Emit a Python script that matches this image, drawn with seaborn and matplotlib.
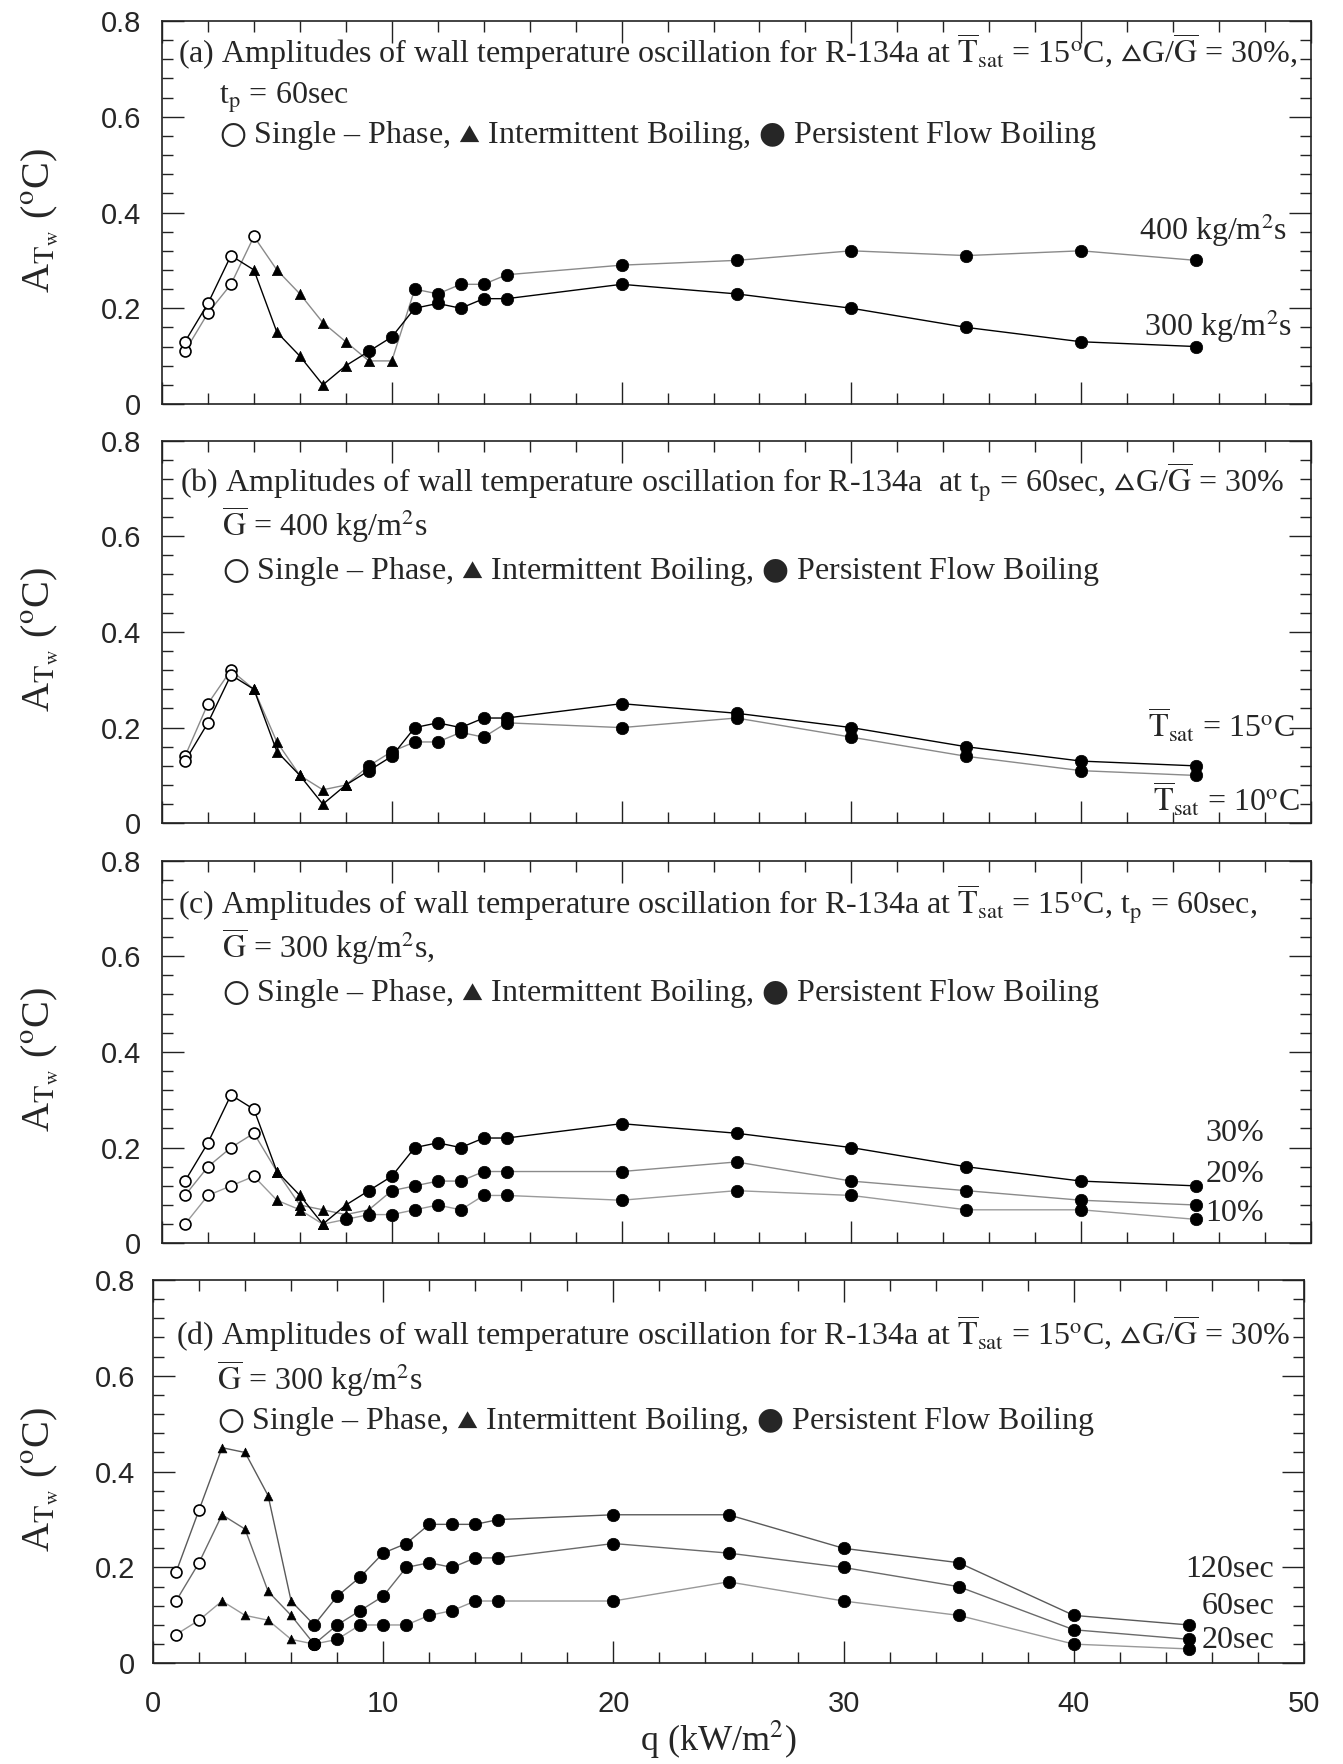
import numpy as np
import pandas as pd
import matplotlib
matplotlib.use("Agg")
import matplotlib.pyplot as plt
import seaborn as sns
from matplotlib.ticker import MultipleLocator, FuncFormatter

# ---------------- data ----------------
q = [1, 2, 3, 4, 5, 6, 7, 8, 9, 10, 11, 12, 13, 14, 15, 20, 25, 30, 35, 40, 45]

# (a) mass flux effect
a_g400 = [0.11, 0.19, 0.25, 0.35, 0.28, 0.23, 0.17, 0.13, 0.09, 0.09, 0.24, 0.23, 0.25, 0.25, 0.27, 0.29, 0.30, 0.32, 0.31, 0.32, 0.30]
a_g400_regime = "SSSSTTTTTTPPPPPPPPPPP"
a_g300 = [0.13, 0.21, 0.31, 0.28, 0.15, 0.10, 0.04, 0.08, 0.11, 0.14, 0.20, 0.21, 0.20, 0.22, 0.22, 0.25, 0.23, 0.20, 0.16, 0.13, 0.12]
a_g300_regime = "SSSTTTTTPPPPPPPPPPPPP"

# (b) saturation temperature effect
b_t15 = [0.13, 0.21, 0.31, 0.28, 0.15, 0.10, 0.04, 0.08, 0.11, 0.14, 0.20, 0.21, 0.20, 0.22, 0.22, 0.25, 0.23, 0.20, 0.16, 0.13, 0.12]
b_t15_regime = "SSSTTTTTPPPPPPPPPPPPP"
b_t10 = [0.14, 0.25, 0.32, 0.28, 0.17, 0.10, 0.07, 0.08, 0.12, 0.15, 0.17, 0.17, 0.19, 0.18, 0.21, 0.20, 0.22, 0.18, 0.14, 0.11, 0.10]
b_t10_regime = "SSSTTTTTPPPPPPPPPPPPP"

# (c) amplitude of mass flux oscillation effect
c_30 = [0.13, 0.21, 0.31, 0.28, 0.15, 0.10, 0.04, 0.08, 0.11, 0.14, 0.20, 0.21, 0.20, 0.22, 0.22, 0.25, 0.23, 0.20, 0.16, 0.13, 0.12]
c_30_regime = "SSSSTTTTPPPPPPPPPPPPP"
c_20 = [0.10, 0.16, 0.20, 0.23, 0.15, 0.08, 0.07, 0.06, 0.07, 0.11, 0.12, 0.13, 0.13, 0.15, 0.15, 0.15, 0.17, 0.13, 0.11, 0.09, 0.08]
c_20_regime = "SSSSTTTTTPPPPPPPPPPPP"
c_10 = [0.04, 0.10, 0.12, 0.14, 0.09, 0.07, 0.04, 0.05, 0.06, 0.06, 0.07, 0.08, 0.07, 0.10, 0.10, 0.09, 0.11, 0.10, 0.07, 0.07, 0.05]
c_10_regime = "SSSSTTTPPPPPPPPPPPPPP"

# (d) period effect
d_120 = [0.19, 0.32, 0.45, 0.44, 0.35, 0.13, 0.08, 0.14, 0.18, 0.23, 0.25, 0.29, 0.29, 0.29, 0.30, 0.31, 0.31, 0.24, 0.21, 0.10, 0.08]
d_60 = [0.13, 0.21, 0.31, 0.28, 0.15, 0.10, 0.04, 0.08, 0.11, 0.14, 0.20, 0.21, 0.20, 0.22, 0.22, 0.25, 0.23, 0.20, 0.16, 0.07, 0.05]
d_20 = [0.06, 0.09, 0.13, 0.10, 0.09, 0.05, 0.04, 0.05, 0.08, 0.08, 0.08, 0.10, 0.11, 0.13, 0.13, 0.13, 0.17, 0.13, 0.10, 0.04, 0.03]
d_regime = "SSTTTTPPPPPPPPPPPPPPP"

x_ticks = [0, 10, 20, 30, 40, 50]
y_ticks = [0, 0.2, 0.4, 0.6, 0.8]

# ---------------- style ----------------
sns.set_theme(style="ticks")
plt.rcParams["font.family"] = ["Liberation Serif", "DejaVu Sans"]
plt.rcParams["mathtext.fontset"] = "stix"
plt.rcParams["axes.linewidth"] = 1.2
plt.rcParams["axes.edgecolor"] = "#222222"

W, H = 1343, 1764
fig = plt.figure(figsize=(W / 100, H / 100), dpi=100)

# axes boxes in pixels: left, right, top, bottom
boxes = [
    (162, 1311, 21, 404),
    (162, 1311, 440.5, 823.3),
    (162, 1311, 860.5, 1243.3),
    (153, 1304, 1280, 1663.3),
]
axes = []
for (l, r, t, b) in boxes:
    ax = fig.add_axes([l / W, 1 - b / H, (r - l) / W, (b - t) / H])
    axes.append(ax)

MS_C = 62
MS_T = 55


def draw_series(ax, values, regime, color, lw=1.0, tri_s=MS_T):
    df = pd.DataFrame({"q": q, "A": values, "regime": list(regime)})
    sns.lineplot(data=df, x="q", y="A", sort=False, estimator=None,
                 color=color, lw=lw, ax=ax, zorder=2, legend=False)
    s_df = df[df.regime == "S"]
    t_df = df[df.regime == "T"]
    p_df = df[df.regime == "P"]
    sns.scatterplot(data=s_df, x="q", y="A", marker="o", s=MS_C, color="black",
                    facecolor="white", edgecolor="black", linewidth=1.2,
                    ax=ax, zorder=3, legend=False)
    sns.scatterplot(data=t_df, x="q", y="A", marker="^", s=tri_s, color="black",
                    edgecolor="black", linewidth=0.5, ax=ax, zorder=3, legend=False)
    sns.scatterplot(data=p_df, x="q", y="A", marker="o", s=MS_C + 18, color="black",
                    edgecolor="black", linewidth=0.5, ax=ax, zorder=3, legend=False)


GRAY = "#8a8a8a"
draw_series(axes[0], a_g400, a_g400_regime, GRAY)
draw_series(axes[0], a_g300, a_g300_regime, "black")
draw_series(axes[1], b_t10, b_t10_regime, GRAY)
draw_series(axes[1], b_t15, b_t15_regime, "black")
draw_series(axes[2], c_10, c_10_regime, "#9a9a9a")
draw_series(axes[2], c_20, c_20_regime, GRAY)
draw_series(axes[2], c_30, c_30_regime, "black")
draw_series(axes[3], d_20, d_regime, "#999999", tri_s=40)
draw_series(axes[3], d_60, d_regime, "#6a6a6a", tri_s=40)
draw_series(axes[3], d_120, d_regime, "#5a5a5a", tri_s=40)

yfmt = FuncFormatter(lambda v, p: "0" if abs(v) < 1e-9 else f"{v:.1f}")
for i, ax in enumerate(axes):
    ax.set_xlim(0, 50)
    ax.set_ylim(0, 0.8)
    ax.set_xticks(x_ticks)
    ax.set_yticks(y_ticks)
    ax.xaxis.set_minor_locator(MultipleLocator(2))
    ax.yaxis.set_minor_locator(MultipleLocator(0.04))
    ax.yaxis.set_major_formatter(yfmt)
    ax.tick_params(which="both", direction="in", top=True, right=True,
                   color="#222222")
    ax.tick_params(which="major", length=16, width=1.0)
    ax.tick_params(which="minor", length=8, width=1.0)
    ax.tick_params(axis="y", labelsize=21, pad=15 if i < 3 else 13)
    ax.tick_params(axis="x", labelsize=21, pad=19)
    for lab in ax.get_xticklabels() + ax.get_yticklabels():
        lab.set_fontfamily("Liberation Sans")
    ax.set_xlabel("")
    ax.set_ylabel("")
    if i < 3:
        ax.tick_params(axis="x", labelbottom=False)
    # y label
    l, r, t, b = boxes[i]
    fig.text(40 / W, 1 - ((t + b) / 2 + 8) / H,
             r"A$_{\mathrm{T}_{\mathrm{w}}}$ ($^{\mathrm{o}}$C)",
             rotation=90, ha="center", va="center", fontsize=29)

fig.text(718 / W, 1 - 1740 / H, r"q (kW/m$^{2}$)", ha="center", va="center",
         fontsize=26)

TS = r"$\overline{\mathrm{T}}_{\mathrm{sat}}$"
DG = "$\u25B5$G/" + r"$\overline{\mathrm{G}}$"
GB = r"$\overline{\mathrm{G}}$"
TP = r"t$_{\mathrm{p}}$"
DEG = r"$^{\mathrm{o}}$C"
LEG = "$\u25CB$ Single \u2013 Phase, $\u25B4$ Intermittent Boiling, $\u25CF$ Persistent Flow Boiling"
FS = 23

panel_text = [
    [(0.7, 0.713, f"(a) Amplitudes of wall temperature oscillation for R-134a at {TS} = 15{DEG}, {DG} = 30%,"),
     (2.5, 0.628, f"{TP} = 60sec"),
     (2.5, 0.546, LEG)],
    [(0.78, 0.69, f"(b) Amplitudes of wall temperature oscillation for R-134a  at {TP} = 60sec, {DG} = 30%"),
     (2.6, 0.60, f"{GB} = 400 kg/m$^{{2}}$s"),
     (2.6, 0.511, LEG)],
    [(0.7, 0.686, f"(c) Amplitudes of wall temperature oscillation for R-134a at {TS} = 15{DEG}, {TP} = 60sec,"),
     (2.6, 0.596, f"{GB} = 300 kg/m$^{{2}}$s,"),
     (2.6, 0.507, LEG)],
    [(1.0, 0.665, f"(d) Amplitudes of wall temperature oscillation for R-134a at {TS} = 15{DEG}, {DG} = 30%"),
     (2.77, 0.57, f"{GB} = 300 kg/m$^{{2}}$s"),
     (2.8, 0.49, LEG)],
]
for ax, lines in zip(axes, panel_text):
    for (x, y, s) in lines:
        ax.text(x, y, s, ha="left", va="baseline", fontsize=FS, zorder=5)

right_labels = [
    [(48.95, 0.342, "400 kg/m$^{2}$s"), (49.2, 0.142, "300 kg/m$^{2}$s")],
    [(49.3, 0.178, f"{TS} = 15{DEG}"), (49.5, 0.024, f"{TS} = 10{DEG}")],
    [(47.95, 0.214, "30%"), (47.95, 0.129, "20%"), (47.95, 0.046, "10%")],
    [(48.7, 0.181, "120sec"), (48.7, 0.102, "60sec"), (48.7, 0.031, "20sec")],
]
for ax, labs in zip(axes, right_labels):
    for (x, y, s) in labs:
        ax.text(x, y, s, ha="right", va="baseline", fontsize=23, zorder=5)

fig.savefig("out.png", dpi=100, facecolor="white")
